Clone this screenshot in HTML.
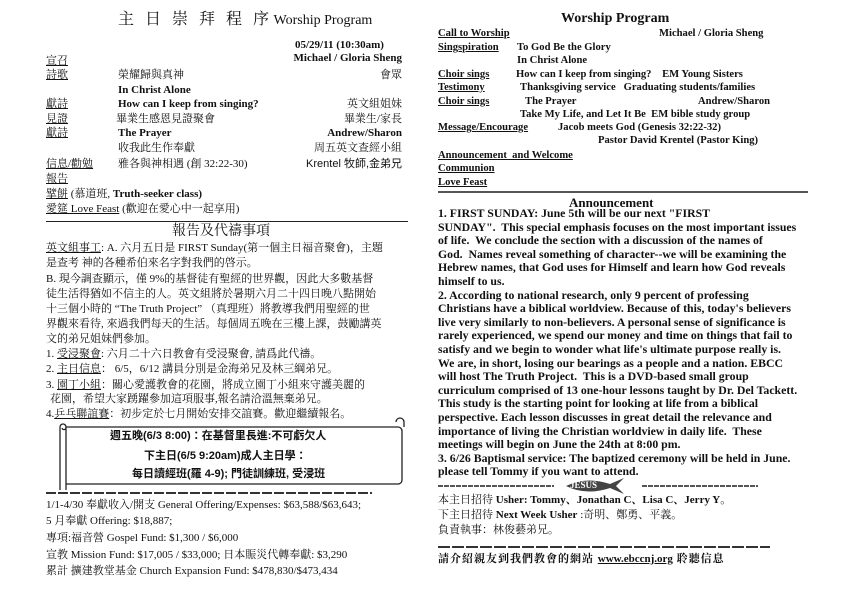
<!DOCTYPE html>
<html><head><meta charset="utf-8"><style>
body{margin:0;width:842px;height:595px;background:#fff;overflow:hidden;position:relative;font-family:"Liberation Serif","Noto Serif CJK SC","Noto Sans CJK TC",serif;color:#111}
div{position:absolute;white-space:nowrap;line-height:1}
.s{font-size:11px}
.b{font-weight:bold}
u{text-decoration:underline}
.r{text-align:right}
.rc{font-size:10.6px;font-weight:bold}
</style></head><body>
<!-- LEFT -->
<div style="left:118px;top:12px;font-size:16px;letter-spacing:1px">主&nbsp; 日&nbsp; 崇&nbsp; 拜&nbsp; 程&nbsp; 序<span style="font-size:14px;letter-spacing:0"> Worship Program</span></div>
<div class="s b" style="left:295px;top:40px">05/29/11 (10:30am)</div>
<div class="s b r" style="right:440px;top:53px">Michael / Gloria Sheng</div>
<div class="s" style="left:46px;top:56px"><u>宣召</u></div>
<div class="s" style="left:46px;top:70px"><u>詩歌</u></div><div class="s" style="left:118px;top:70px">榮耀歸與真神</div><div class="s r" style="right:440px;top:70px">會眾</div>
<div class="s b" style="left:118px;top:85px">In Christ Alone</div>
<div class="s" style="left:46px;top:99px"><u>獻詩</u></div><div class="s b" style="left:118px;top:99px">How can I keep from singing?</div><div class="s r" style="right:440px;top:99px">英文組姐妹</div>
<div class="s" style="left:46px;top:114px"><u>見證</u></div><div class="s" style="left:116px;top:114px">畢業生感恩見證聚會</div><div class="s r" style="right:440px;top:114px">畢業生/家長</div>
<div class="s" style="left:46px;top:128px"><u>獻詩</u></div><div class="s b" style="left:118px;top:128px">The Prayer</div><div class="s b r" style="right:440px;top:128px">Andrew/Sharon</div>
<div class="s" style="left:118px;top:143px">收我此生作奉獻</div><div class="s r" style="right:440px;top:143px">周五英文查經小組</div>
<div class="s" style="left:46px;top:159px"><u>信息/勸勉</u></div><div class="s" style="left:118px;top:159px">雅各與神相遇 (創 32:22-30)</div><div class="s r" style="right:440px;top:159px;font-family:'Liberation Sans','Noto Sans CJK TC',sans-serif">Krentel 牧師,金弟兄</div>
<div class="s" style="left:46px;top:174px"><u>報告</u></div>
<div class="s" style="left:46px;top:189px"><u>擘餅</u> (慕道班, <b>Truth-seeker class)</b></div>
<div class="s" style="left:46px;top:204px"><u>愛筵 Love Feast</u> (歡迎在愛心中一起享用)</div>
<div style="left:46px;top:221px;width:362px;height:1px;background:#222"></div>
<div style="left:172px;top:225px;font-size:14px">報告及代禱事項</div>
<div class="s" style="left:46px;top:243px"><u>英文組事工</u>: A. 六月五日是 FIRST Sunday(第一個主日福音聚會)，主題</div>
<div class="s" style="left:46px;top:258px">是查考 神的各種希伯來名字對我們的啓示。</div>
<div class="s" style="left:46px;top:274px">B. 現今調查顯示，僅 9%的基督徒有聖經的世界觀，因此大多數基督</div>
<div class="s" style="left:46px;top:289px">徒生活得猶如不信主的人。英文組將於暑期六月二十四日晚八點開始</div>
<div class="s" style="left:46px;top:304px">十三個小時的 “The Truth Project” （真理班）將教導我們用聖經的世</div>
<div class="s" style="left:46px;top:319px">界觀來看待, 來過我們每天的生活。每個周五晚在三樓上課，鼓勵講英</div>
<div class="s" style="left:46px;top:334px">文的弟兄姐妹們參加。</div>
<div class="s" style="left:46px;top:349px">1. <u>受浸聚會</u>: 六月二十六日教會有受浸聚會, 請爲此代禱。</div>
<div class="s" style="left:46px;top:364px">2. <u>主日信息</u>： 6/5，6/12 講員分別是金海弟兄及林三綱弟兄。</div>
<div class="s" style="left:46px;top:380px">3. <u>園丁小組</u>：關心愛護教會的花園，將成立園丁小組來守護美麗的</div>
<div class="s" style="left:50px;top:394px">花園，希望大家踴躍參加這項服事,報名請洽溫無棄弟兄。</div>
<div class="s" style="left:46px;top:409px">4.<u>乒乓聯誼賽</u>：初步定於七月開始安排交誼賽。歡迎繼續報名。</div>
<!-- scroll box -->
<svg style="position:absolute;left:0;top:0" width="842" height="595">
<g fill="none" stroke="#222" stroke-width="1.3">
<path d="M66 427 H398 a4 4 0 0 1 4 4 V480 a4 4 0 0 1 -4 4 H66"/>
<path d="M60 427 V490 M66 427 V490 M60 427 a3 3 0 0 1 6 0 a2 2 0 0 1 -4 1"/>
<path d="M396 422 a4 4 0 0 1 8 0 V427"/>
</g>
<line x1="46" y1="493" x2="372" y2="493" stroke="#333" stroke-width="2" stroke-dasharray="10 2"/>
<line x1="438" y1="486" x2="554" y2="486" stroke="#555" stroke-width="2" stroke-dasharray="5 1"/>
<line x1="642" y1="486" x2="758" y2="486" stroke="#555" stroke-width="2" stroke-dasharray="5 1"/>
<path d="M566 486 q20 -10 44 -2 l14 -6 -8 8 8 8 -14 -6 q-24 8 -44 -2z" fill="#444"/>
<line x1="438" y1="547" x2="770" y2="547" stroke="#333" stroke-width="2" stroke-dasharray="12 2"/>
</svg>
<div style="left:570px;top:481px;font-size:9px;color:#fff;font-weight:bold">JESUS</div>
<div class="s b" style="left:110px;top:431px;font-family:'Liberation Sans','Noto Sans CJK TC',sans-serif">週五晚(6/3 8:00)：在基督里長進:不可虧欠人</div>
<div class="s b" style="left:144px;top:451px;font-family:'Liberation Sans','Noto Sans CJK TC',sans-serif">下主日(6/5 9:20am)成人主日學：</div>
<div class="s b" style="left:132px;top:469px;font-family:'Liberation Sans','Noto Sans CJK TC',sans-serif">每日讀經班(羅 4-9); 門徒訓練班, 受浸班</div>
<div class="s" style="left:46px;top:500px">1/1-4/30 奉獻收入/開支 General Offering/Expenses: $63,588/$63,643;</div>
<div class="s" style="left:46px;top:516px">5 月奉獻 Offering: $18,887;</div>
<div class="s" style="left:46px;top:533px">專項:福音營 Gospel Fund: $1,300 / $6,000</div>
<div class="s" style="left:46px;top:550px">宣教 Mission Fund: $17,005 / $33,000; 日本賑災代轉奉獻: $3,290</div>
<div class="s" style="left:46px;top:566px">累計 擴建教堂基金 Church Expansion Fund: $478,830/$473,434</div>
<!-- RIGHT -->
<div style="left:561px;top:12px;font-size:14px;font-weight:bold">Worship Program</div>
<div class="rc" style="left:438px;top:29px"><u>Call to Worship</u></div><div class="rc" style="left:659px;top:29px">Michael / Gloria Sheng</div>
<div class="rc" style="left:438px;top:43px"><u>Singspiration</u></div><div class="rc" style="left:517px;top:43px">To God Be the Glory</div>
<div class="rc" style="left:517px;top:56px">In Christ Alone</div>
<div class="rc" style="left:438px;top:70px"><u>Choir sings</u></div><div class="rc" style="left:516px;top:70px">How can I keep from singing? &nbsp;&nbsp; EM Young Sisters</div>
<div class="rc" style="left:438px;top:83px"><u>Testimony</u></div><div class="rc" style="left:520px;top:83px">Thanksgiving service &nbsp; Graduating students/families</div>
<div class="rc" style="left:438px;top:97px"><u>Choir sings</u></div><div class="rc" style="left:525px;top:97px">The Prayer</div><div class="rc" style="left:698px;top:97px">Andrew/Sharon</div>
<div class="rc" style="left:520px;top:110px">Take My Life, and Let It Be &nbsp;EM bible study group</div>
<div class="rc" style="left:438px;top:123px"><u>Message/Encourage</u></div><div class="rc" style="left:558px;top:123px">Jacob meets God (Genesis 32:22-32)</div>
<div class="rc" style="left:598px;top:136px">Pastor David Krentel (Pastor King)</div>
<div class="rc" style="left:438px;top:151px"><u>Announcement &nbsp;and Welcome</u></div>
<div class="rc" style="left:438px;top:164px"><u>Communion</u></div>
<div class="rc" style="left:438px;top:178px"><u>Love Feast</u></div>
<div style="left:438px;top:191px;width:370px;height:2px;background:#555"></div>
<div style="left:569px;top:196px;font-size:13px;font-weight:bold">Announcement</div>
<div style="left:438px;top:207px;line-height:13.6px;white-space:pre;font-size:11.8px;font-weight:bold">1. FIRST SUNDAY: June 5th will be our next "FIRST
SUNDAY".  This special emphasis focuses on the most important issues
of life.  We conclude the section with a discussion of the names of
God.  Names reveal something of character--we will be examining the
Hebrew names, that God uses for Himself and learn how God reveals
himself to us.
2. According to national research, only 9 percent of professing
Christians have a biblical worldview. Because of this, today's believers
live very similarly to non-believers. A personal sense of significance is
rarely experienced, we spend our money and time on things that fail to
satisfy and we begin to wonder what life's ultimate purpose really is.
We are, in short, losing our bearings as a people and a nation. EBCC
will host The Truth Project.  This is a DVD-based small group
curriculum comprised of 13 one-hour lessons taught by Dr. Del Tackett.
This study is the starting point for looking at life from a biblical
perspective. Each lesson discusses in great detail the relevance and
importance of living the Christian worldview in daily life.  These
meetings will begin on June the 24th at 8:00 pm.
3. 6/26 Baptismal service: The baptized ceremony will be held in June.
please tell Tommy if you want to attend.</div>
<div class="s" style="left:438px;top:495px">本主日招待 <b>Usher: Tommy、Jonathan C、Lisa C、Jerry Y。</b></div>
<div class="s" style="left:438px;top:510px">下主日招待 <b>Next Week Usher</b> :奇明、鄭勇、平義。</div>
<div class="s" style="left:438px;top:525px">負責執事：林俊藝弟兄。</div>
<div class="s b" style="left:438px;top:554px;letter-spacing:1px">請介紹親友到我們教會的網站 <u style="letter-spacing:0">www.ebccnj.org</u> 聆聽信息</div>
</body></html>
